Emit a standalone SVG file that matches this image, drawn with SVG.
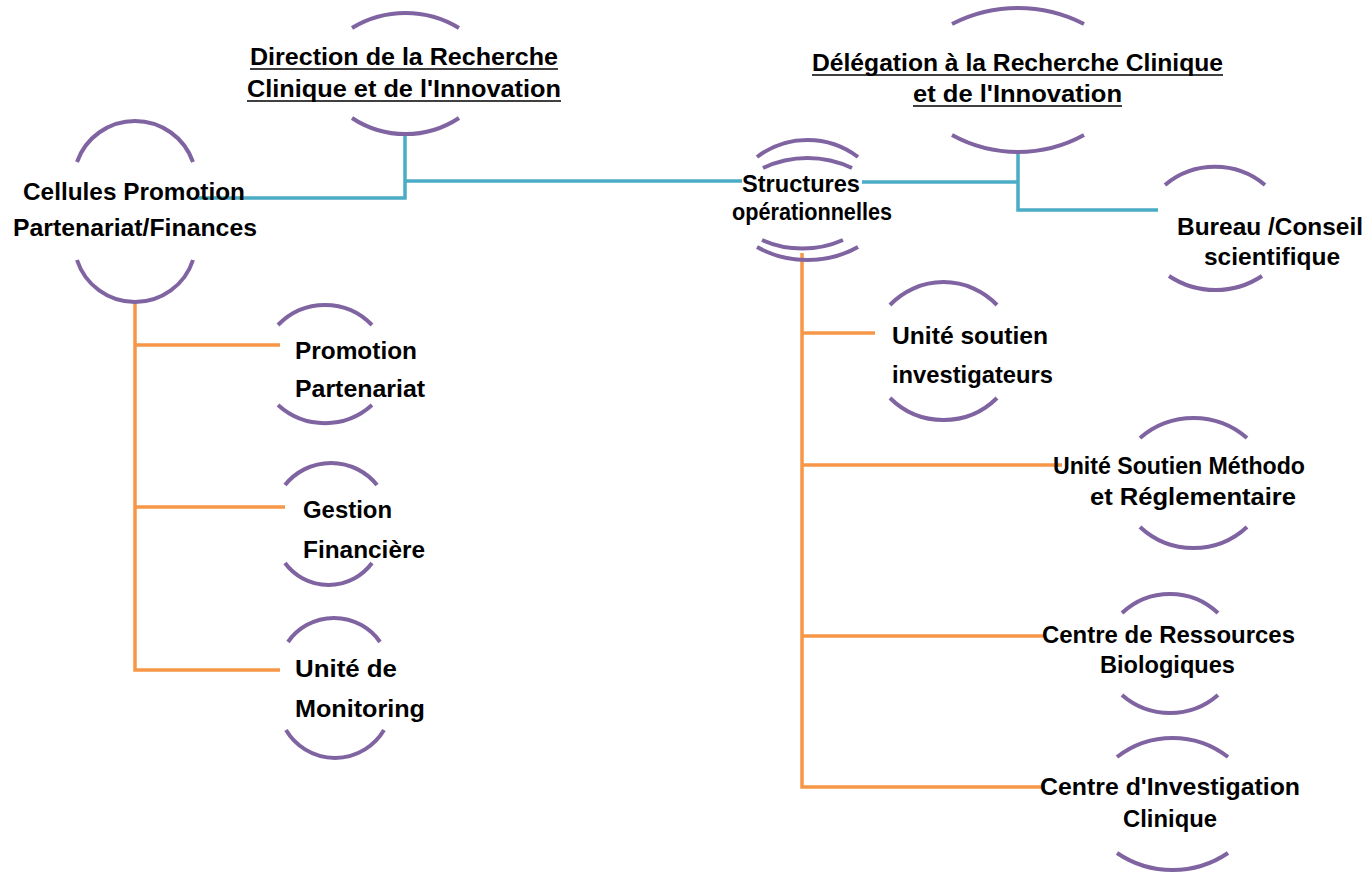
<svg xmlns="http://www.w3.org/2000/svg" width="1370" height="875" viewBox="0 0 1370 875">
<style>
.arc{fill:none;stroke:#8064A2;stroke-width:4;stroke-linecap:butt}
.blue{fill:none;stroke:#4BACC6;stroke-width:3.5}
.orange{fill:none;stroke:#F79646;stroke-width:3.5}
text{font-family:"Liberation Sans",Arial,sans-serif;font-weight:bold;font-size:24px;fill:#000}
.ul{stroke:#000;stroke-width:1.6}
</style>
<defs>
<clipPath id="clipSci"><rect x="1150" y="240" width="220" height="30"/></clipPath>
</defs>
<rect width="1370" height="875" fill="#fff"/>

<g id="connectors">
<polyline class="blue" points="195,198 405,198 405,134"/>
<line class="blue" x1="405" y1="181" x2="742" y2="181"/>
<line class="blue" x1="862" y1="182" x2="1018" y2="182"/>
<polyline class="blue" points="1018,152 1018,210 1158,210"/>
<polyline class="orange" points="135,302 135,670 280,670"/>
<line class="orange" x1="135" y1="345" x2="280" y2="345"/>
<line class="orange" x1="135" y1="507" x2="285" y2="507"/>
<polyline class="orange" points="802,253 802,787 1045,787"/>
<line class="orange" x1="802" y1="333" x2="875" y2="333"/>
<line class="orange" x1="802" y1="465" x2="1062" y2="465"/>
<line class="orange" x1="802" y1="636" x2="1045" y2="636"/>
</g>

<g id="direction">
<path class="arc" d="M352,28 A103,103 0 0 1 459,28"/>
<path class="arc" d="M352,118 A97,97 0 0 0 459,118"/>
<text x="250" y="65" textLength="308" lengthAdjust="spacingAndGlyphs">Direction de la Recherche</text>
<text x="247" y="97" textLength="314" lengthAdjust="spacingAndGlyphs">Clinique et de l'Innovation</text>
<line class="ul" x1="250" y1="69" x2="558" y2="69"/>
<line class="ul" x1="247" y1="101" x2="561" y2="101"/>
</g>

<g id="delegation">
<path class="arc" d="M952,24 A144,144 0 0 1 1084,24"/>
<path class="arc" d="M952,135 A137,137 0 0 0 1084,135"/>
<text x="812" y="71" textLength="411" lengthAdjust="spacingAndGlyphs">Délégation à la Recherche Clinique</text>
<text x="913" y="102" textLength="209" lengthAdjust="spacingAndGlyphs">et de l'Innovation</text>
<line class="ul" x1="812" y1="75" x2="1223" y2="75"/>
<line class="ul" x1="913" y1="106" x2="1122" y2="106"/>
</g>

<g id="cellules">
<path class="arc" d="M77,162 A61.5,61.5 0 0 1 193,162"/>
<path class="arc" d="M77,260 A61,61 0 0 0 193,260"/>
<text x="23" y="200" textLength="222" lengthAdjust="spacingAndGlyphs">Cellules Promotion</text>
<text x="13" y="236" textLength="244" lengthAdjust="spacingAndGlyphs">Partenariat/Finances</text>
</g>

<g id="structures">
<path class="arc" d="M757,157 A83.5,83.5 0 0 1 858,157"/>
<path class="arc" d="M763,168 A104,104 0 0 1 852,168"/>
<path class="arc" d="M762,240 A100,100 0 0 0 843,240"/>
<path class="arc" d="M757,247 A104,104 0 0 0 858,247"/>
<text x="742" y="192" textLength="118" lengthAdjust="spacingAndGlyphs">Structures</text>
<text x="732" y="220" textLength="160" lengthAdjust="spacingAndGlyphs">opérationnelles</text>
</g>

<g id="bureau">
<path class="arc" d="M1165,185 A78,78 0 0 1 1265,185"/>
<path class="arc" d="M1169,276 A84,84 0 0 0 1262,276"/>
<text x="1177" y="235" textLength="186" lengthAdjust="spacingAndGlyphs">Bureau /Conseil</text>
<text x="1204" y="265" textLength="136" lengthAdjust="spacingAndGlyphs" clip-path="url(#clipSci)">scientifique</text>
</g>

<g id="promotion">
<path class="arc" d="M278,325 A65,65 0 0 1 372,325"/>
<path class="arc" d="M278,405 A70,70 0 0 0 372,405"/>
<text x="295" y="359" textLength="122" lengthAdjust="spacingAndGlyphs">Promotion</text>
<text x="295" y="397" textLength="130" lengthAdjust="spacingAndGlyphs">Partenariat</text>
</g>

<g id="gestion">
<path class="arc" d="M285,485 A59,59 0 0 1 377,485"/>
<path class="arc" d="M285,563 A54,54 0 0 0 372,563"/>
<text x="303" y="518" textLength="89" lengthAdjust="spacingAndGlyphs">Gestion</text>
<text x="303" y="558" textLength="122" lengthAdjust="spacingAndGlyphs">Financière</text>
</g>

<g id="monitoring">
<path class="arc" d="M288,642 A56,56 0 0 1 380,642"/>
<path class="arc" d="M286,730 A57,57 0 0 0 384,730"/>
<text x="295" y="677" textLength="102" lengthAdjust="spacingAndGlyphs">Unité de</text>
<text x="295" y="717" textLength="130" lengthAdjust="spacingAndGlyphs">Monitoring</text>
</g>

<g id="soutien-investigateurs">
<path class="arc" d="M890,305 A74,74 0 0 1 997,305"/>
<path class="arc" d="M890,398 A76,76 0 0 0 997,398"/>
<text x="892" y="344" textLength="156" lengthAdjust="spacingAndGlyphs">Unité soutien</text>
<text x="892" y="383" textLength="161" lengthAdjust="spacingAndGlyphs">investigateurs</text>
</g>

<g id="methodo">
<path class="arc" d="M1140,438 A81.5,81.5 0 0 1 1247,438"/>
<path class="arc" d="M1140,527 A78.6,78.6 0 0 0 1247,527"/>
<text x="1053" y="474" textLength="252" lengthAdjust="spacingAndGlyphs">Unité Soutien Méthodo</text>
<text x="1090" y="505" textLength="206" lengthAdjust="spacingAndGlyphs">et Réglementaire</text>
</g>

<g id="crb">
<path class="arc" d="M1122,613 A70,70 0 0 1 1218,613"/>
<path class="arc" d="M1122,695 A73,73 0 0 0 1218,695"/>
<text x="1042" y="643" textLength="253" lengthAdjust="spacingAndGlyphs">Centre de Ressources</text>
<text x="1100" y="673" textLength="135" lengthAdjust="spacingAndGlyphs">Biologiques</text>
</g>

<g id="cic">
<path class="arc" d="M1117,757 A90.5,90.5 0 0 1 1228,757"/>
<path class="arc" d="M1117,853 A99,99 0 0 0 1228,853"/>
<text x="1040" y="795" textLength="260" lengthAdjust="spacingAndGlyphs">Centre d'Investigation</text>
<text x="1123" y="827" textLength="94" lengthAdjust="spacingAndGlyphs">Clinique</text>
</g>
</svg>
